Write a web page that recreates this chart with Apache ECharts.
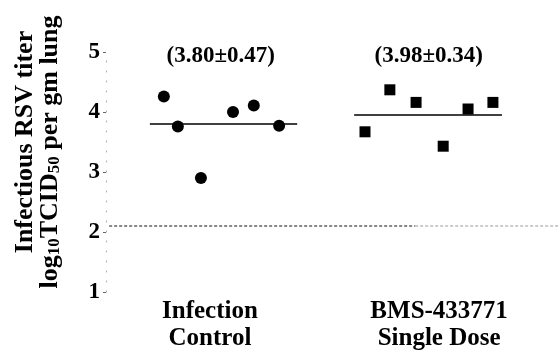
<!DOCTYPE html>
<html>
<head>
<meta charset="utf-8">
<script src="https://cdn.jsdelivr.net/npm/echarts@6/dist/echarts.min.js"></script>
<style>html,body{margin:0;padding:0;background:#fff;}#c{width:558px;height:355px;}</style>
</head>
<body>
<div id="c"></div>
<script>
// ---- data ----
const categories = ['Infection\nControl', 'BMS-433771\nSingle Dose'];
const categoryPos = [23.0, 73.7];
const yTicks = [1, 2, 3, 4, 5];
const controlX = [12.8, 15.9, 21.0, 28.1, 32.7, 38.3];
const controlY = [4.26, 3.76, 2.90, 4.00, 4.11, 3.77];
const bmsX = [57.3, 62.8, 68.6, 74.6, 80.1, 85.6];
const bmsY = [3.67, 4.37, 4.16, 3.43, 4.05, 4.16];
const means = [3.80, 3.95];
const meanSpans = [[9.7, 42.3], [54.9, 87.6]];
const annotations = ['(3.80\u00b10.47)', '(3.98\u00b10.34)'];
const annotationX = [25.4, 71.4];
const annotationY = 4.93;
const limitValue = 2.1;
const limitDark = [0.7, 68.4];
const limitLight = [68.4, 100];
const yTitle1 = 'Infectious RSV titer';
const yTitle2 = '{b|log}{s|10}{b|TCID}{s|50}{b| per gm lung}';

const FONT = '"Liberation Serif", "Times New Roman", serif';
const chart = echarts.init(document.getElementById('c'), null, {renderer: 'canvas'});

const pts = (xs, ys) => xs.map((x, i) => [x, ys[i]]);

chart.setOption({
  animation: false,
  backgroundColor: '#fff',
  grid: {left: 106, right: 0, top: 52, bottom: 63, containLabel: false},
  graphic: [
    {type: 'text', x: 25, y: 142, rotation: Math.PI / 2,
     style: {text: yTitle1, fontFamily: FONT, fontWeight: 'bold', fontSize: 26, fill: '#000',
             align: 'center', verticalAlign: 'middle'}},
    {type: 'text', x: 50, y: 152, rotation: Math.PI / 2,
     style: {text: yTitle2, align: 'center', verticalAlign: 'middle', fill: '#000',
       rich: {
         b: {fontFamily: FONT, fontWeight: 'bold', fontSize: 26, lineHeight: 26, verticalAlign: 'top', fill: '#000'},
         s: {fontFamily: FONT, fontWeight: 'bold', fontSize: 17, lineHeight: 17, padding: [14, 0, 0, 0], verticalAlign: 'bottom', fill: '#000'}
       }}}
  ],
  xAxis: {
    type: 'value', min: 0, max: 100,
    axisLine: {show: false}, axisTick: {show: false}, splitLine: {show: false},
    axisLabel: {
      customValues: categoryPos,
      formatter: v => { const i = categoryPos.findIndex(p => Math.abs(p - v) < 1e-6); return i >= 0 ? categories[i] : ''; },
      fontFamily: FONT, fontWeight: 'bold', fontSize: 25, color: '#000',
      lineHeight: 27, margin: 6
    }
  },
  yAxis: {
    type: 'value', min: yTicks[0], max: yTicks[yTicks.length - 1], interval: 1,
    axisLine: {show: true, lineStyle: {color: '#aaa', type: [1, 9], width: 1}},
    axisTick: {show: true, length: 3, lineStyle: {color: '#666'}},
    splitLine: {show: false},
    axisLabel: {fontFamily: FONT, fontWeight: 'bold', fontSize: 23, color: '#000', margin: 6}
  },
  series: [
    {type: 'line', data: [[limitDark[0], limitValue], [limitDark[1], limitValue]], symbol: 'none',
     lineStyle: {color: '#111', width: 1, type: [3, 2]}, silent: true},
    {type: 'line', data: [[limitLight[0], limitValue], [limitLight[1], limitValue]], symbol: 'none',
     lineStyle: {color: '#999', width: 1, type: [3, 2]}, silent: true},
    {type: 'line', data: [[meanSpans[0][0], means[0]], [meanSpans[0][1], means[0]]], symbol: 'none',
     lineStyle: {color: '#000', width: 1.5}},
    {type: 'line', data: [[meanSpans[1][0], means[1]], [meanSpans[1][1], means[1]]], symbol: 'none',
     lineStyle: {color: '#000', width: 1.5}},
    {type: 'scatter', data: pts(controlX, controlY), symbol: 'circle', symbolSize: 12,
     itemStyle: {color: '#000', opacity: 1}},
    {type: 'scatter', data: pts(bmsX, bmsY), symbol: 'rect', symbolSize: 11,
     itemStyle: {color: '#000', opacity: 1}},
    {type: 'scatter', data: annotationX.map((x, i) => ({value: [x, annotationY], name: annotations[i]})),
     symbolSize: 0, itemStyle: {opacity: 1},
     label: {show: true, position: 'inside', formatter: p => p.name, opacity: 1,
       fontFamily: FONT, fontWeight: 'bold', fontSize: 23, color: '#000'}}
  ]
});
</script>
</body>
</html>
